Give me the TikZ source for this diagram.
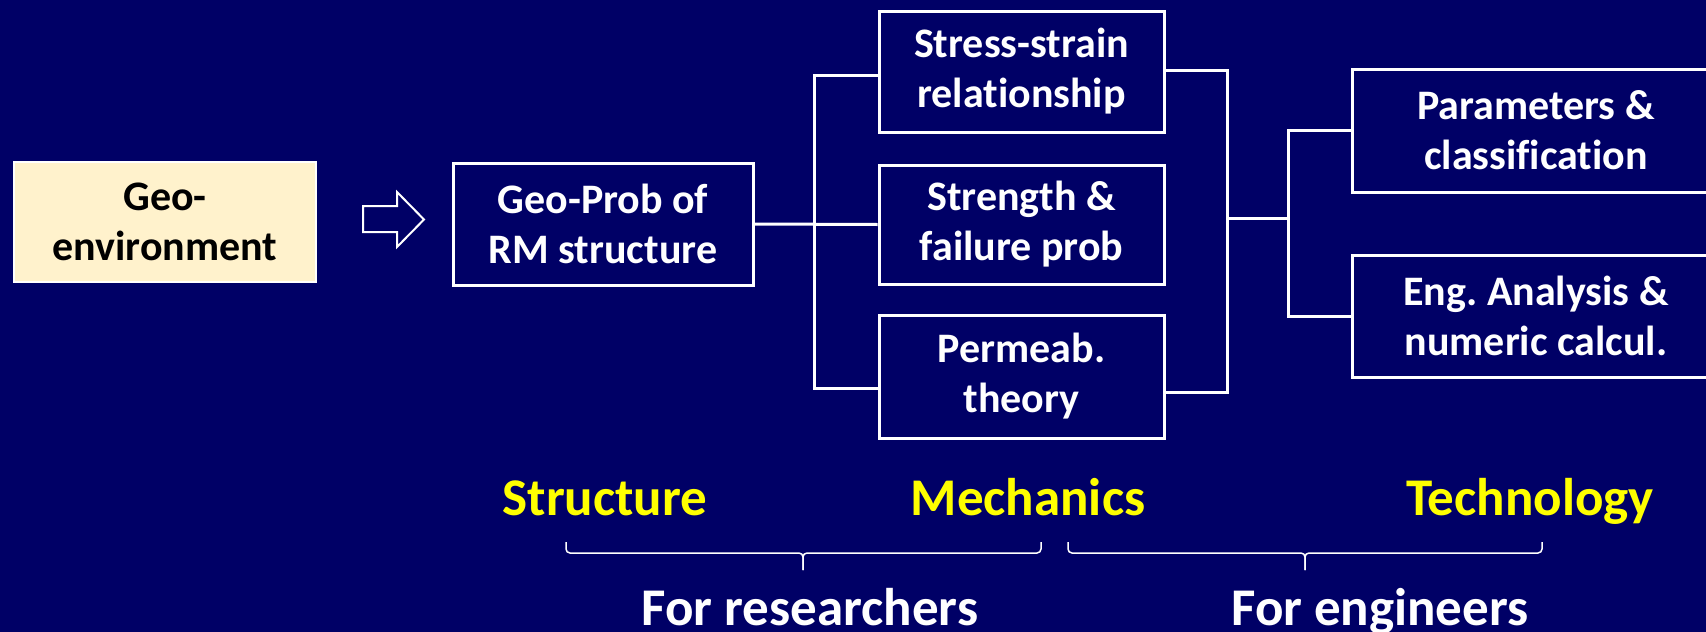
\documentclass[tikz,border=0pt]{standalone}
\usepackage{fontspec}
\setmainfont{Carlito}[Ligatures=NoCommon]
\usetikzlibrary{calc}
\definecolor{navy}{RGB}{0,0,102}
\definecolor{cream}{RGB}{255,242,204}
\definecolor{ylw}{RGB}{255,255,0}
\frenchspacing
\tikzset{
 box/.style={draw=white, line width=3pt, fill=navy, text=white, align=center,
   font=\fontsize{42}{50}\selectfont\bfseries, inner sep=0pt},
 conn/.style={draw=white, line width=3pt},
 lbl/.style={text=ylw, font=\fontsize{53}{60}\selectfont\bfseries, anchor=base, inner sep=0pt},
 grp/.style={text=white, font=\fontsize{53}{60}\selectfont\bfseries, anchor=base, inner sep=0pt},
 bracefs/.style={draw=white, line width=1.5pt, rounded corners=4pt},
 hollow/.style={draw=white, line width=2pt, fill=navy}
}
\begin{document}
\begin{tikzpicture}[x=1pt,y=-1pt]
\useasboundingbox (0,0) rectangle (1706,632);
\fill[navy] (0,0) rectangle (1706,632);
% boxes
\node[box, fill=cream, text=black, line width=2.5pt, minimum width=302pt, minimum height=120pt] (geo) at (165,222) {Geo-\\environment};
\node[box, minimum width=300pt, minimum height=122pt] (prob) at (603,224) {Geo-Prob of\\RM structure};
\node[box, minimum width=285pt, minimum height=121pt] (stress) at (1021.5,71.5) {Stress-strain\\relationship};
\node[box, minimum width=285pt, minimum height=119pt] (strength) at (1021.5,224.5) {Strength \&\\failure prob};
\node[box, minimum width=285pt, minimum height=123pt] (perm) at (1021.5,376.5) {Permeab.\\theory};
\node[box, minimum width=368pt, minimum height=123pt] (param) at (1536,130.5) {Parameters \&\\classification};
\node[box, minimum width=368pt, minimum height=122pt] (eng) at (1536,316) {Eng. Analysis \&\\numeric calcul.};
% hollow arrow
\draw[hollow] (363,206) -- (397,206) -- (397,192) -- (424,219.5) -- (397,247) -- (397,232) -- (363,232) -- cycle;
% connectors
\draw[conn] (prob.east) -- (strength.west);
\draw[conn] ($(stress.west)+(0,4)$) -- ++(-63,0) |- ($(perm.west)+(0,12)$);
\draw[conn] ($(stress.east)+(0,-1)$) -- ++(62,0) |- ($(perm.east)+(0,16)$);
\coordinate (rb) at (1226,218);
\coordinate (tb) at (1290,218);
\draw[conn] (rb) -- (tb);
\draw[conn] (param.west) -- ++(-62,0) |- (eng.west);
% labels
\node[lbl] (ls) at (605,515) {Structure};
\node[lbl] (lm) at (1028,515) {Mechanics};
\node[lbl] (lt) at (1530,515) {Technology};
% braces
\draw[bracefs] (566,542) -- (566,553) -- (803,553) -- (803,570);
\draw[bracefs] (1041,542) -- (1041,553) -- (803,553) -- (803,570);
\draw[bracefs] (1068,542) -- (1068,553) -- (1305,553) -- (1305,570);
\draw[bracefs] (1542,542) -- (1542,553) -- (1305,553) -- (1305,570);
\node[grp] (gr) at (810,625) {For researchers};
\node[grp] (ge) at (1380,625) {For engineers};
\end{tikzpicture}
\end{document}
